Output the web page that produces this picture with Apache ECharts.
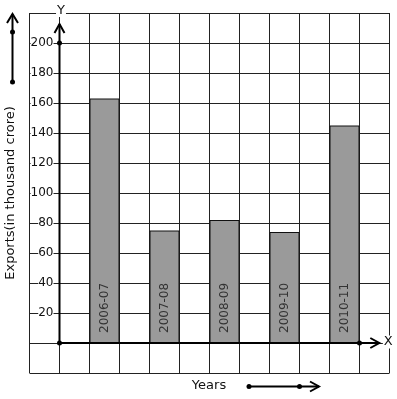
<!DOCTYPE html>
<html lang="en">
<head>
<meta charset="UTF-8">
<title>Exports</title>
<script src="https://cdn.jsdelivr.net/npm/echarts@6/dist/echarts.min.js"></script>
<style>
    html, body { margin: 0; padding: 0; background: #fff; }
    #main { width: 397px; height: 399px; }
</style>
</head>
<body>
<div id="main"></div>
<script>
    // exports in thousand crore, per year
    var years = ['2006-07', '2007-08', '2008-09', '2009-10', '2010-11'];
    var exportsVal = [163, 75, 82, 74, 145];
    var yTicks = [20, 40, 60, 80, 100, 120, 140, 160, 180, 200];

    // graph paper has 12 columns, a bar sits in every second column from column 2
    var slots = [], barData = [];
    for (var i = 0; i < 12; i++) {
        slots.push('c' + i);
        barData.push('-');
    }
    for (var j = 0; j < years.length; j++) {
        slots[2 + 2 * j] = years[j];
        barData[2 + 2 * j] = exportsVal[j];
    }

    var font = 'DejaVu Sans';

    // the thick X / Y axes with dots and open arrow heads
    function renderAxes(params, api) {
        var o = api.coord([0, 0]);
        var yTop = api.coord([0, 212.7]);
        var y200 = api.coord([0, 200]);
        var xEnd = api.coord([10.66, 0]);
        var x10 = api.coord([10, 0]);
        var st = {stroke: '#000', lineWidth: 2, fill: null};
        return {
            type: 'group',
            children: [
                {type: 'line', shape: {x1: o[0], y1: o[1], x2: yTop[0], y2: yTop[1]}, style: st},
                {type: 'polyline', shape: {points: [[yTop[0] - 5, yTop[1] + 9], [yTop[0], yTop[1]], [yTop[0] + 5, yTop[1] + 9]]}, style: st},
                {type: 'line', shape: {x1: o[0], y1: o[1], x2: xEnd[0], y2: xEnd[1]}, style: st},
                {type: 'polyline', shape: {points: [[xEnd[0] - 9, xEnd[1] - 5], [xEnd[0], xEnd[1]], [xEnd[0] - 9, xEnd[1] + 5]]}, style: st},
                {type: 'circle', shape: {cx: o[0], cy: o[1], r: 2.5}, style: {fill: '#000'}},
                {type: 'circle', shape: {cx: y200[0], cy: y200[1], r: 2.5}, style: {fill: '#000'}},
                {type: 'circle', shape: {cx: x10[0], cy: x10[1], r: 2.5}, style: {fill: '#000'}},
                {type: 'text', style: {text: 'Y', x: o[0] + 1.5, y: 10.5, align: 'center', verticalAlign: 'middle',
                        font: '13px ' + font, fill: '#111', backgroundColor: '#fff', padding: [0, 1]}},
                {type: 'text', style: {text: 'X', x: xEnd[0] + 9, y: o[1] - 1, align: 'center', verticalAlign: 'middle',
                        font: '13px ' + font, fill: '#111', backgroundColor: '#fff', padding: [0, 1]}}
            ]
        };
    }

    var myChart = echarts.init(document.getElementById('main'));

    var option = {
        backgroundColor: '#fff',
        animation: false,
        textStyle: {fontFamily: font},
        grid: {left: 29.5, top: 13, width: 360, height: 360, containLabel: false, outerBoundsMode: 'none'},
        xAxis: [{
            type: 'category',
            data: slots,
            boundaryGap: true,
            axisLine: {show: false},
            axisTick: {show: false},
            axisLabel: {show: false},
            splitLine: {show: true, interval: 0, lineStyle: {color: '#222', width: 1}}
        }, {
            type: 'value',
            min: -1,
            max: 11,
            show: false
        }],
        yAxis: {
            type: 'value',
            min: -20,
            max: 220,
            interval: 20,
            offset: -30,
            name: 'Exports(in thousand crore)',
            nameLocation: 'middle',
            nameRotate: 90,
            nameGap: 42,
            nameTextStyle: {fontSize: 13, color: '#111', fontFamily: font},
            axisLine: {show: false},
            axisTick: {show: false},
            axisLabel: {
                customValues: yTicks,
                margin: 6,
                fontSize: 12,
                color: '#111',
                fontFamily: font,
                backgroundColor: '#fff'
            },
            splitLine: {show: true, lineStyle: {color: '#222', width: 1}}
        },
        series: [{
            type: 'bar',
            xAxisIndex: 0,
            data: barData,
            barWidth: '100%',
            itemStyle: {color: '#9a9a9a', borderColor: '#111', borderWidth: 1},
            label: {
                show: true,
                position: 'insideBottom',
                rotate: 90,
                align: 'left',
                verticalAlign: 'middle',
                distance: 10,
                fontSize: 12,
                color: '#333',
                fontFamily: font,
                formatter: function (p) { return p.name; }
            }
        }, {
            type: 'custom',
            xAxisIndex: 1,
            coordinateSystem: 'cartesian2d',
            silent: true,
            z: 10,
            data: [[0, 0]],
            renderItem: renderAxes
        }],
        graphic: [
            // arrow beside the y axis title
            {type: 'line', shape: {x1: 12.5, y1: 82, x2: 12.5, y2: 14}, style: {stroke: '#000', lineWidth: 2}},
            {type: 'polyline', shape: {points: [[7, 23], [12.5, 14], [18, 23]]}, style: {stroke: '#000', lineWidth: 2, fill: null}},
            {type: 'circle', shape: {cx: 12.5, cy: 32, r: 2.5}, style: {fill: '#000'}},
            {type: 'circle', shape: {cx: 12.5, cy: 82, r: 2.5}, style: {fill: '#000'}},
            // x title and its arrow
            {type: 'text', x: 209, y: 386, style: {text: 'Years', font: '13px ' + font, fill: '#111', align: 'center', verticalAlign: 'middle'}},
            {type: 'line', shape: {x1: 249, y1: 386.5, x2: 319, y2: 386.5}, style: {stroke: '#000', lineWidth: 2}},
            {type: 'polyline', shape: {points: [[310, 381.5], [319, 386.5], [310, 391.5]]}, style: {stroke: '#000', lineWidth: 2, fill: null}},
            {type: 'circle', shape: {cx: 249, cy: 386.5, r: 2.5}, style: {fill: '#000'}},
            {type: 'circle', shape: {cx: 299.5, cy: 386.5, r: 2.5}, style: {fill: '#000'}}
        ]
    };

    myChart.setOption(option);
</script>
</body>
</html>
